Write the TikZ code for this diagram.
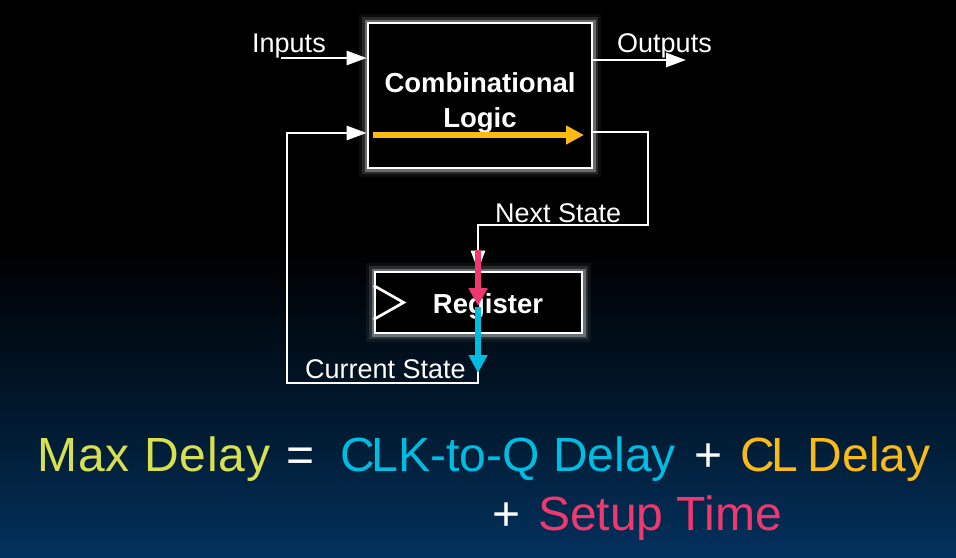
\documentclass[tikz,border=0pt]{standalone}
\usepackage{fontspec}
\setmainfont{Liberation Sans}
\usetikzlibrary{arrows.meta}
\definecolor{ygreen}{RGB}{217,224,80}
\definecolor{cyanc}{RGB}{0,188,224}
\definecolor{orangec}{RGB}{251,186,22}
\definecolor{pinkc}{RGB}{240,56,110}
\definecolor{bgA}{RGB}{3,49,94}
\definecolor{bgB}{RGB}{1,27,50}
\pgfdeclareverticalshading{bgsh}{100bp}{color(0bp)=(bgA); color(25bp)=(bgA); color(36.5bp)=(bgB); color(52.5bp)=(black); color(100bp)=(black)}
\tikzset{
  box/.style={draw=white, line width=2.7pt, fill=black,
    preaction={draw=white, line width=18pt, opacity=0.05},
    preaction={draw=white, line width=12pt, opacity=0.12},
    preaction={draw=white, line width=7pt, opacity=0.30}},
  wire/.style={draw=white, line width=2.7pt},
  whead/.style={-{Triangle[length=20pt,width=14pt]}},
  cflow/.style={line width=6pt, -{Triangle[length=18pt,width=18pt]}},
  lbl/.style={text=white, inner sep=0pt, anchor=base west, font=\fontsize{27}{32}\selectfont},
  bold/.style={text=white, inner sep=0pt, anchor=base, font=\fontsize{27.5}{32}\selectfont\bfseries},
  big/.style={inner sep=0pt, anchor=base west, font=\fontsize{48}{56}\selectfont}
}
\begin{document}
\begin{tikzpicture}[x=1pt,y=-1pt]
\shade[shading=bgsh] (0,0) rectangle (956,557);
\useasboundingbox (0,0) rectangle (956,557);
% boxes
\node[box, minimum width=224pt, minimum height=145pt, inner sep=0pt] (cl) at (480,95.5) {};
\node[box, minimum width=207pt, minimum height=61pt, inner sep=0pt] (reg) at (478.5,302.5) {};
\draw[wire] ([yshift=17pt]reg.west) -- ([xshift=30pt]reg.west) -- ([yshift=-17pt]reg.west);
% coordinates
\coordinate (inS) at (281,58);
\coordinate (outE) at (686,60);
\coordinate (nsA) at (648,132);
\coordinate (nsB) at (648,225);
\coordinate (regx) at (478,0);
\coordinate (csA) at (478,383);
\coordinate (csB) at (287,133);
% wires
\draw[wire, whead] (inS) -- (inS -| cl.west);
\draw[wire, whead] (cl.east |- outE) -- (outE);
\draw[wire, whead] (cl.east |- nsA) -- (nsA) -- (nsB) -- (nsB -| regx) -- (regx |- reg.north);
\draw[wire, whead] (regx |- reg.south) -- (csA) -| (csB) -- (csB -| cl.west);
% labels
\node[lbl] (tin) at (252,52) {Inputs};
\node[lbl] (tout) at (617,52) {Outputs};
\node[lbl] (tns) at (495,222) {Next State};
\node[lbl] (tcs) at (305,378) {Current State};
\node[bold] (tcomb) at (480,92) {Combinational};
\node[bold] (tlogic) at (480,127) {Logic};
\node[bold] (treg) at (488,313) {Register};
% coloured flows
\coordinate (yA) at (373,135);
\coordinate (yB) at (584,135);
\draw[cflow, orangec] (yA) -- (yB);
\coordinate (pA) at (478,250);
\coordinate (pB) at (478,306);
\draw[cflow, pinkc] (pA) -- (pB);
\coordinate (cA) at (478,307);
\coordinate (cB) at (478,373);
\draw[cflow, cyanc] (cA) -- (cB);
% equation
\node[big, text=ygreen] (e1) at (37,471) {\addfontfeature{LetterSpace=2}Max Delay};
\node[big, text=white] (e2) at (286,471) {=};
\node[big, text=cyanc] (e3) at (340,471) {C\kern-3pt LK-to-Q Delay};
\node[big, text=white] (e4) at (694,471) {+};
\node[big, text=orangec] (e5) at (740,471) {C\kern-3pt L\kern-4pt\ Delay};
\node[big, text=white] (e6) at (492,530) {+};
\node[big, text=pinkc] (e7) at (538,530) {Setup Time};
\end{tikzpicture}
\end{document}
